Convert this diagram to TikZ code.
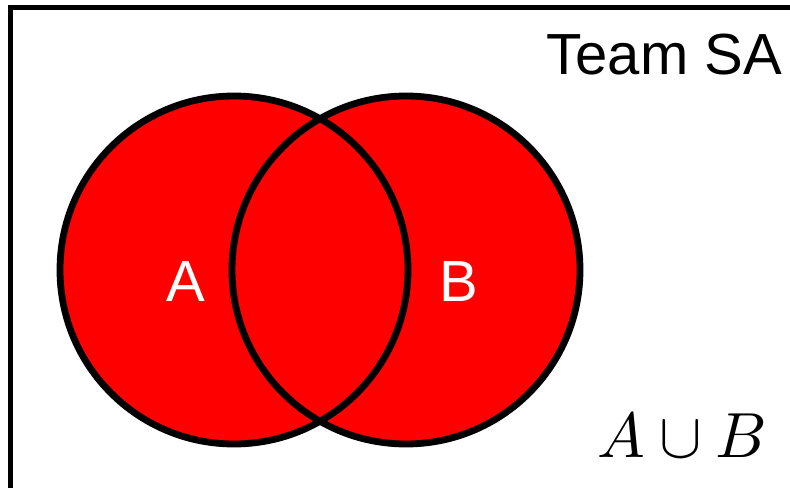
\documentclass[tikz,border=0pt]{standalone}
\usepackage{fontspec}
\setmainfont{Liberation Sans}
\begin{document}
\begin{tikzpicture}[x=1bp,y=-1bp,
  setcircle/.style={draw=black,line width=6.8bp},
  biglabel/.style={inner sep=0pt,font=\fontsize{58bp}{60bp}\selectfont},
  frameline/.style={draw=black,line width=5.5bp}]
\useasboundingbox (0,0) rectangle (790,488);
\definecolor{vennred}{RGB}{255,0,0}
\fill[vennred] (234,270) circle[radius=174];
\fill[vennred] (406,270) circle[radius=174];
\draw[setcircle] (234,270) circle[radius=174];
\draw[setcircle] (406,270) circle[radius=174];
\draw[frameline] (10.5,7.5) rectangle (820,520);
\node[biglabel,text=white,anchor=base] (la) at (186,302) {A};
\node[biglabel,text=white,anchor=base] (lb) at (459,302) {B};
\node[biglabel,anchor=base east] (title) at (782,75) {Team SA};
\node[inner sep=0pt,anchor=base west,scale=6.4] (expr) at (596,457) {$A\cup B$};
\end{tikzpicture}
\end{document}
